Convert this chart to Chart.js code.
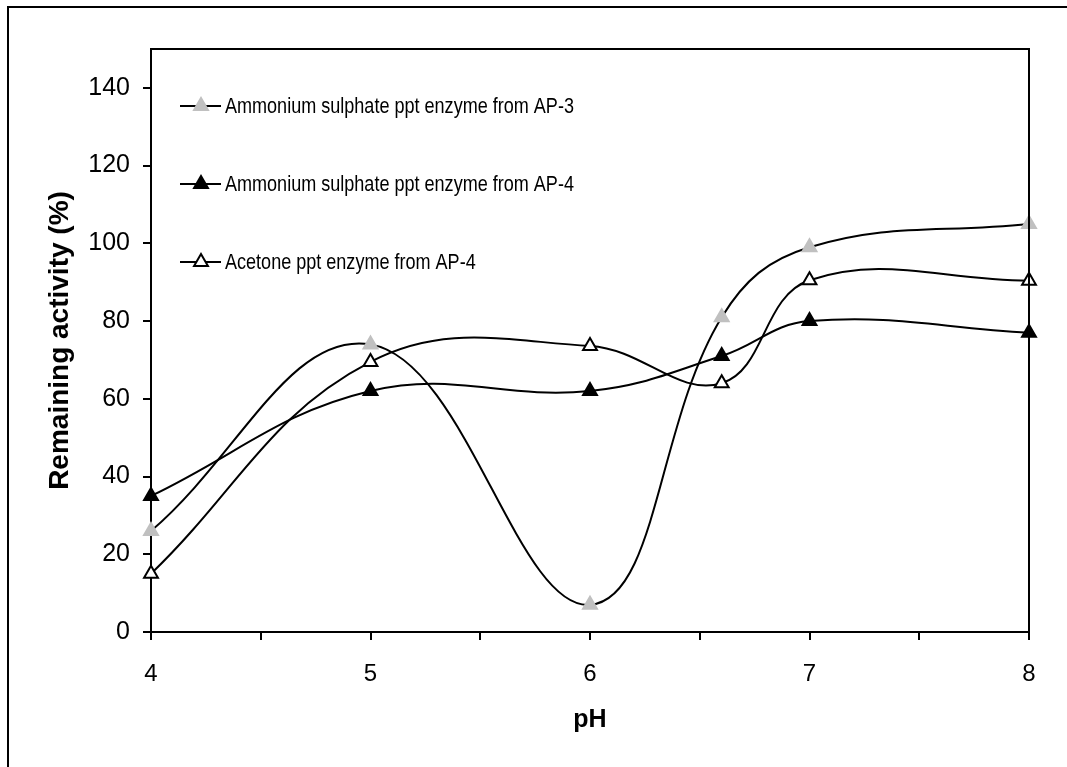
<!DOCTYPE html>
<html>
<head>
<meta charset="utf-8">
<title>Remaining activity vs pH</title>
<script src="https://cdn.jsdelivr.net/npm/chart.js@4/dist/chart.umd.min.js"></script>
<style>
    html, body { margin: 0; padding: 0; background: #ffffff; }
    #wrap { position: relative; width: 1067px; height: 767px; }
</style>
</head>
<body>
<div id="wrap"><canvas id="ph-chart" width="1067" height="767"></canvas></div>
<script>
var PH = [4, 5, 6, 6.6, 7, 8];
var AP3_AMS = [26, 74, 7, 81, 99, 105];
var AP4_AMS = [35, 62, 62, 71, 80, 77];
var AP4_ACE = [15, 69.5, 73.6, 64, 90.5, 90.4];
var SERIES_NAMES = [
    "Ammonium sulphate ppt enzyme from AP-3",
    "Ammonium sulphate ppt enzyme from AP-4",
    "Acetone ppt enzyme from AP-4"
];
var Y_TICKS = [0, 20, 40, 60, 80, 100, 120, 140];
var X_TICKS = [4, 4.5, 5, 5.5, 6, 6.5, 7, 7.5, 8];

var FONT = "'Liberation Sans', Arial, sans-serif";
var NARROW = "'Liberation Sans Narrow', 'Arial Narrow', 'Liberation Sans', Arial, sans-serif";

function points(values) {
    return PH.map(function (x, i) {
        return { x: x, y: values[i] };
    });
}

function series(label, values, fill, stroke) {
    return {
        label: label,
        data: points(values),
        borderColor: "#000000",
        borderWidth: 2,
        tension: 0.4,
        clip: false,
        pointStyle: "triangle",
        pointRadius: 8,
        pointHoverRadius: 8,
        pointBackgroundColor: fill,
        pointBorderColor: stroke,
        pointBorderWidth: 2
    };
}

// is a narrow face installed? if not, squeeze the regular one
function narrowScale(ctx) {
    var s = "Ammonium sulphate ppt enzyme";
    ctx.font = "22px " + FONT;
    var wide = ctx.measureText(s).width;
    ctx.font = "22px " + NARROW;
    var nar = ctx.measureText(s).width;
    return nar < wide * 0.95 ? 1 : 0.82;
}

// frame round the plot area and the outer box, plus a legend inside the plot
var framePlugin = {
    id: "frame",
    beforeDraw: function (chart) {
        var ctx = chart.ctx;
        ctx.save();
        ctx.strokeStyle = "#000000";
        ctx.lineWidth = 2;
        ctx.strokeRect(8, 7, 2000, 2000);
        ctx.restore();
    },
    afterDraw: function (chart) {
        var ctx = chart.ctx;
        var a = chart.chartArea;
        ctx.save();
        ctx.strokeStyle = "#000000";
        ctx.lineWidth = 2;
        ctx.beginPath();
        ctx.moveTo(a.left, a.top);
        ctx.lineTo(a.right, a.top);
        ctx.lineTo(a.right, a.bottom);
        ctx.stroke();

        var rows = [106, 184, 262];
        var sx = narrowScale(ctx);
        chart.data.datasets.forEach(function (ds, i) {
            var y = rows[i];
            ctx.strokeStyle = "#000000";
            ctx.lineWidth = 2;
            ctx.beginPath();
            ctx.moveTo(180, y);
            ctx.lineTo(221, y);
            ctx.stroke();
            ctx.fillStyle = ds.pointBackgroundColor;
            ctx.strokeStyle = ds.pointBorderColor;
            ctx.lineWidth = ds.pointBorderWidth;
            Chart.helpers.drawPoint(ctx, {
                pointStyle: "triangle",
                radius: 8,
                rotation: 0,
                borderWidth: ds.pointBorderWidth
            }, 201, y);
            ctx.save();
            ctx.font = "22px " + NARROW;
            ctx.textBaseline = "middle";
            ctx.textAlign = "left";
            ctx.fillStyle = "#000000";
            ctx.translate(225, y + 1);
            ctx.scale(sx, 1);
            ctx.fillText(ds.label, 0, 0);
            ctx.restore();
        });
        ctx.restore();
    }
};

new Chart(document.getElementById("ph-chart").getContext("2d"), {
    type: "line",
    data: {
        datasets: [
            series(SERIES_NAMES[0], AP3_AMS, "#c0c0c0", "#c0c0c0"),
            series(SERIES_NAMES[1], AP4_AMS, "#000000", "#000000"),
            series(SERIES_NAMES[2], AP4_ACE, "#ffffff", "#000000")
        ]
    },
    options: {
        responsive: false,
        animation: false,
        layout: { padding: { left: 0, top: 49, right: 38, bottom: 0 } },
        plugins: {
            legend: { display: false },
            tooltip: { enabled: false }
        },
        scales: {
            x: {
                type: "linear",
                min: 4,
                max: 8,
                afterFit: function (scale) { scale.height = 135; },
                afterBuildTicks: function (scale) {
                    scale.ticks = X_TICKS.map(function (v) {
                        return { value: v };
                    });
                },
                ticks: {
                    color: "#000000",
                    padding: 20,
                    maxRotation: 0,
                    autoSkip: false,
                    font: { family: FONT, size: 24 },
                    callback: function (v) {
                        return Number.isInteger(v) ? String(v) : "";
                    }
                },
                grid: {
                    drawOnChartArea: false,
                    color: "#000000",
                    lineWidth: 2,
                    tickLength: 8
                },
                border: { color: "#000000", width: 2 },
                title: {
                    display: true,
                    text: "pH",
                    color: "#000000",
                    padding: { top: 0, bottom: 32 },
                    font: { family: FONT, size: 25, weight: "bold" }
                }
            },
            y: {
                min: 0,
                max: 150,
                afterFit: function (scale) { scale.width = 151; },
                afterBuildTicks: function (scale) {
                    scale.ticks = Y_TICKS.map(function (v) {
                        return { value: v };
                    });
                },
                ticks: {
                    color: "#000000",
                    padding: 13,
                    font: { family: FONT, size: 25 }
                },
                grid: {
                    drawOnChartArea: false,
                    color: "#000000",
                    lineWidth: 2,
                    tickLength: 8
                },
                border: { color: "#000000", width: 2 },
                title: {
                    display: true,
                    text: "Remaining activity (%)",
                    color: "#000000",
                    padding: { top: 43, bottom: 0 },
                    font: { family: FONT, size: 28, weight: "bold" }
                }
            }
        }
    },
    plugins: [framePlugin]
});
</script>
</body>
</html>
